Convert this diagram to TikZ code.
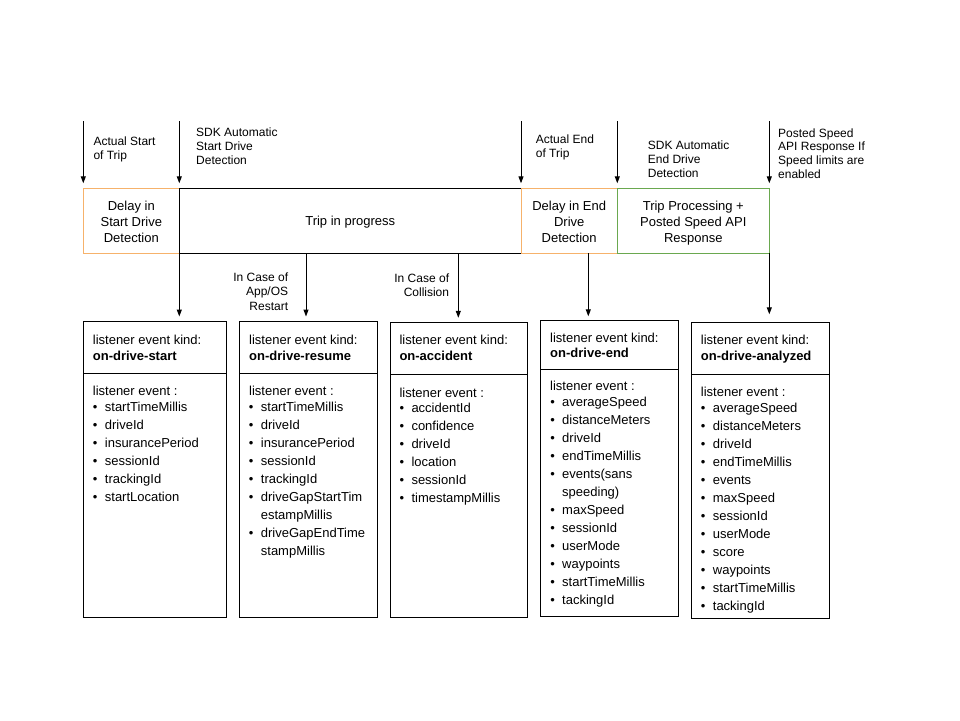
\documentclass[tikz,border=0pt]{standalone}
\usepackage{fontspec}
\setmainfont{Liberation Sans}
\usetikzlibrary{arrows.meta}
\definecolor{orng}{HTML}{F6B26B}
\definecolor{grn}{HTML}{6AA84F}
\newcommand\bul{\llap{\textbullet\hspace{7.4pt}}}
\begin{document}
\begin{tikzpicture}[x=1pt,y=-1pt,
  arr/.style={-{Triangle[length=7pt,width=5pt]}, line width=1pt},
  bandbox/.style={draw, anchor=north west, inner sep=0pt, outer sep=0pt, line width=1pt, minimum height=65pt},
  evbox/.style={draw, anchor=north west, inner sep=0pt, outer sep=0pt, line width=1pt},
  lbl/.style={font=\fontsize{12}{14}\selectfont, anchor=base west, inner sep=0pt},
  lblr/.style={font=\fontsize{12}{14}\selectfont, anchor=base east, inner sep=0pt},
  btxt/.style={font=\fontsize{13}{16}\selectfont, anchor=base, inner sep=0pt},
  txt/.style={font=\fontsize{13}{16}\selectfont, anchor=base west, inner sep=0pt}]
\path[fill=white] (0,0) rectangle (960,720);
\useasboundingbox (0,0) rectangle (960,720);

% ---- timeline band ----
\node[bandbox, draw=orng, minimum width=96pt] (dly1) at (83.3,188.3) {};
\node[bandbox, minimum width=341.7pt] (trip) at (179.3,188.3) {};
\node[bandbox, draw=orng, minimum width=96.3pt] (dly2) at (521,188.3) {};
\node[bandbox, draw=grn, minimum width=152pt] (proc) at (617.3,188.3) {};

\foreach \t [count=\i from 0] in {Delay in, Start Drive, Detection}
  \node[btxt] (d1t\i) at (131.3,210+16*\i) {\t};
\node[btxt] (tript) at (350.2,225.7) {Trip in progress};
\foreach \t [count=\i from 0] in {Delay in End, Drive, Detection}
  \node[btxt] (d2t\i) at (569.2,210.3+16*\i) {\t};
\foreach \t [count=\i from 0] in {Trip Processing +, Posted Speed API, Response}
  \node[btxt] (pt\i) at (693.3,210+16*\i) {\t};

% ---- top arrows and labels ----
\coordinate (ta1) at (83.3,121);
\coordinate (ta2) at (179.3,121);
\coordinate (ta3) at (521,121);
\coordinate (ta4) at (617.3,121);
\coordinate (ta5) at (769.3,121);
\draw[arr, shorten >=5pt] (ta1) -- (dly1.north west);
\draw[arr, shorten >=5pt] (ta2) -- (trip.north west);
\draw[arr, shorten >=5pt] (ta3) -- (dly2.north west);
\draw[arr, shorten >=5pt] (ta4) -- (proc.north west);
\draw[arr, shorten >=5pt] (ta5) -- (proc.north east);

\foreach \t [count=\i from 0] in {Actual Start, of Trip}
  \node[lbl] (l1\i) at (93.3,145+14*\i) {\t};
\foreach \t [count=\i from 0] in {SDK Automatic, Start Drive, Detection}
  \node[lbl] (l2\i) at (196,136.7+14*\i) {\t};
\foreach \t [count=\i from 0] in {Actual End, of Trip}
  \node[lbl] (l3\i) at (535.7,143.3+14*\i) {\t};
\foreach \t [count=\i from 0] in {SDK Automatic, End Drive, Detection}
  \node[lbl] (l4\i) at (647.7,149.3+14*\i) {\t};
\foreach \t [count=\i from 0] in {Posted Speed, API Response If, Speed limits are, enabled}
  \node[lbl] (l5\i) at (778,137+13.7*\i) {\t};

% ---- event boxes ----
\node[evbox, minimum width=143.4pt, minimum height=52.3pt] (b1h) at (83.3,321) {};
\node[evbox, minimum width=143.4pt, minimum height=244pt] (b1b) at (b1h.south west) {};
\node[evbox, minimum width=138pt, minimum height=52pt] (b2h) at (239.3,321) {};
\node[evbox, minimum width=138pt, minimum height=244pt] (b2b) at (b2h.south west) {};
\node[evbox, minimum width=136.6pt, minimum height=52pt] (b3h) at (390.7,322.3) {};
\node[evbox, minimum width=136.6pt, minimum height=243.4pt] (b3b) at (b3h.south west) {};
\node[evbox, minimum width=137.6pt, minimum height=48.7pt] (b4h) at (540.7,320.3) {};
\node[evbox, minimum width=137.6pt, minimum height=247pt] (b4b) at (b4h.south west) {};
\node[evbox, minimum width=137.6pt, minimum height=51.7pt] (b5h) at (691.7,322.3) {};
\node[evbox, minimum width=137.6pt, minimum height=244.3pt] (b5b) at (b5h.south west) {};

% ---- lower arrows ----
\coordinate (rs) at (306,253.3);
\coordinate (cl) at (458.3,253.3);
\coordinate (de) at (588.3,253.3);
\draw[arr, shorten >=4.5pt] (dly1.south east) -- (dly1.south east |- b1h.north);
\draw[arr, shorten >=4.5pt] (rs) -- (rs |- b2h.north);
\draw[arr, shorten >=4.5pt] (cl) -- (cl |- b3h.north);
\draw[arr, shorten >=4pt] (de) -- (de |- b4h.north);
\draw[arr, shorten >=8pt] (proc.south east) -- (proc.south east |- b5h.north);

\foreach \t [count=\i from 0] in {In Case of, App/OS, Restart}
  \node[lblr] (r\i) at (288.3,281.7+14.2*\i) {\t};
\foreach \t [count=\i from 0] in {In Case of, Collision}
  \node[lblr] (c\i) at (449.3,282.3+14*\i) {\t};

% ---- box 1 ----
\node[txt] (b1k) at (92.7,344) {listener event kind:};
\node[txt] (b1n) at (92.7,360) {\textbf{on-drive-start}};
\node[txt] (b1e) at (92.7,395.3) {listener event :};
\foreach \t [count=\i from 0] in {\bul startTimeMillis, \bul driveId, \bul insurancePeriod, \bul sessionId, \bul trackingId, \bul startLocation}
  \node[txt] (b1i\i) at (104.7,411+18*\i) {\t};

% ---- box 2 ----
\node[txt] (b2k) at (249,344) {listener event kind:};
\node[txt] (b2n) at (249,360) {\textbf{on-drive-resume}};
\node[txt] (b2e) at (249,395.3) {listener event :};
\foreach \t [count=\i from 0] in {\bul startTimeMillis, \bul driveId, \bul insurancePeriod, \bul sessionId, \bul trackingId, \bul driveGapStartTim, estampMillis, \bul driveGapEndTime, stampMillis}
  \node[txt] (b2i\i) at (260.7,411+18*\i) {\t};

% ---- box 3 ----
\node[txt] (b3k) at (399.3,344.7) {listener event kind:};
\node[txt] (b3n) at (399.3,360.7) {\textbf{on-accident}};
\node[txt] (b3e) at (399.3,397.3) {listener event :};
\foreach \t [count=\i from 0] in {\bul accidentId, \bul confidence, \bul driveId, \bul location, \bul sessionId, \bul timestampMillis}
  \node[txt] (b3i\i) at (411.3,412+18*\i) {\t};

% ---- box 4 ----
\node[txt] (b4k) at (550,342.3) {listener event kind:};
\node[txt] (b4n) at (550,357.7) {\textbf{on-drive-end}};
\node[txt] (b4e) at (550,390.7) {listener event :};
\foreach \t [count=\i from 0] in {\bul averageSpeed, \bul distanceMeters, \bul driveId, \bul endTimeMillis, \bul events(sans, speeding), \bul maxSpeed, \bul sessionId, \bul userMode, \bul waypoints, \bul startTimeMillis, \bul tackingId}
  \node[txt] (b4i\i) at (562,406.7+17.96*\i) {\t};

% ---- box 5 ----
\node[txt] (b5k) at (700.7,344.7) {listener event kind:};
\node[txt] (b5n) at (700.7,360.7) {\textbf{on-drive-analyzed}};
\node[txt] (b5e) at (700.7,396.7) {listener event :};
\foreach \t [count=\i from 0] in {\bul averageSpeed, \bul distanceMeters, \bul driveId, \bul endTimeMillis, \bul events, \bul maxSpeed, \bul sessionId, \bul userMode, \bul score, \bul waypoints, \bul startTimeMillis, \bul tackingId}
  \node[txt] (b5i\i) at (712.7,412+18*\i) {\t};
\end{tikzpicture}
\end{document}
